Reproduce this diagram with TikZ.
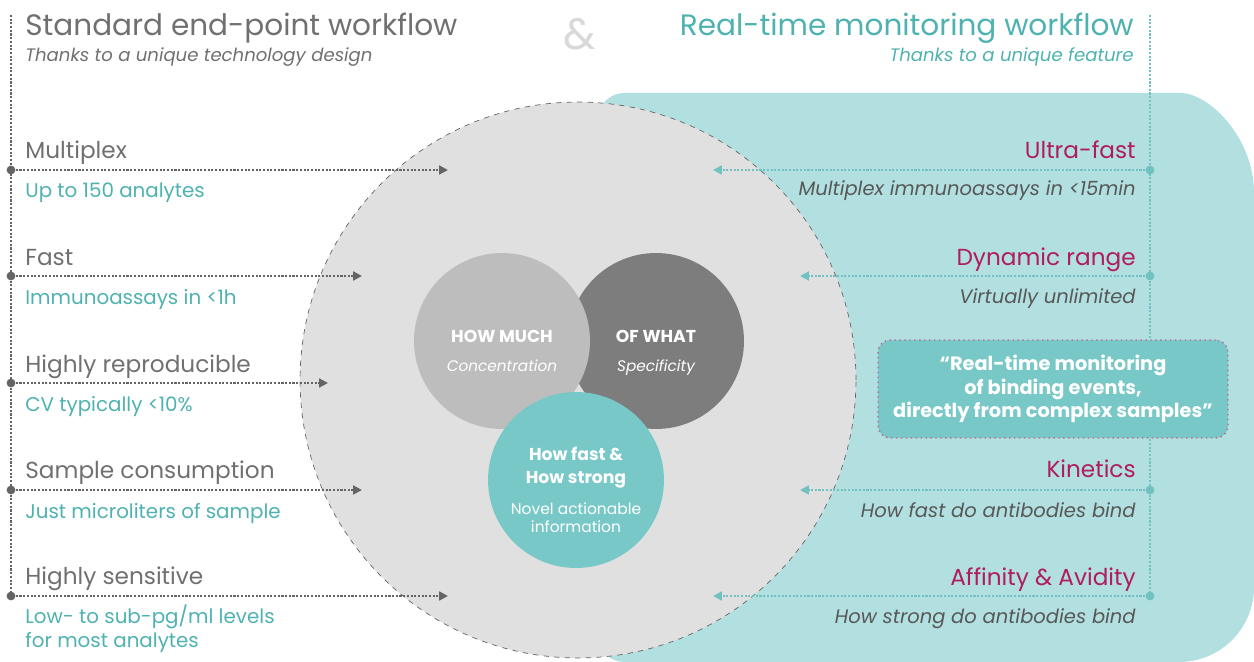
\documentclass[tikz,border=0pt]{standalone}
\usepackage{fontspec}
\setmainfont{Poppins}
\usetikzlibrary{arrows.meta}

\definecolor{tealtxt}{RGB}{78,178,176}
\definecolor{tealbg}{RGB}{178,223,223}
\definecolor{tealdk}{RGB}{120,200,200}
\definecolor{graytxt}{RGB}{112,112,112}
\definecolor{darktxt}{RGB}{88,88,88}
\definecolor{magtxt}{RGB}{176,28,96}
\definecolor{lightcirc}{RGB}{224,224,224}
\definecolor{midcirc}{RGB}{189,189,189}
\definecolor{darkcirc}{RGB}{125,125,125}
\definecolor{ampgray}{RGB}{217,217,217}
\definecolor{linegray}{RGB}{100,100,100}

\tikzset{
  txt/.style={inner sep=0pt},
  title/.style={txt, font=\fontsize{16.8}{19}\selectfont},
  subtitle/.style={txt, font=\fontsize{10.3}{12}\selectfont\itshape},
  lbl/.style={txt, font=\fontsize{13.2}{15}\selectfont},
  sublbl/.style={txt, font=\fontsize{11.3}{13.5}\selectfont, tealtxt},
  rsub/.style={txt, font=\fontsize{11.1}{13}\selectfont\itshape, darktxt},
  inbold/.style={txt, text=white, font=\fontsize{9.8}{12}\selectfont\bfseries, anchor=base},
  inital/.style={txt, text=white, font=\fontsize{8.7}{11}\selectfont\itshape, anchor=base},
  insmall/.style={txt, text=white, font=\fontsize{8.8}{10}\selectfont, anchor=base},
  dots/.style={line width=1.2pt, dash pattern=on 1.2pt off 0.9pt},
  dotL/.style={circle, fill=linegray, inner sep=0pt, minimum size=5pt},
  dotR/.style={circle, fill=tealtxt!80, inner sep=0pt, minimum size=5pt},
  arrL/.style={linegray, dots, -{Triangle[length=5pt,width=5pt]}},
  arrR/.style={tealtxt!80, dots, -{Triangle[length=5pt,width=5pt]}},
  ball/.style={circle, inner sep=0pt, minimum size=3.52cm},
}

\begin{document}
\begin{tikzpicture}[x=0.02cm, y=-0.02cm]
\useasboundingbox (0,0) rectangle (1254,662);
%\draw[step=50,gray,very thin] (0,0) grid (1254,662);

% teal panel and circles
\fill[tealbg, rounded corners=15] (598,93) -- (1154,93) [rounded corners=0] arc (-90:0:100) -- (1254,587) arc (0:90:75) [rounded corners=15] -- (612,662) -- (598,662) -- cycle;
\draw[linegray, dashed, fill=lightcirc] (578,380) circle (5.56cm);
\node[ball, fill=darkcirc] (what) at (656,341) {};
\node[ball, fill=midcirc] (much) at (502,341) {};
\node[ball, fill=tealdk] (fast) at (576,480) {};

\node[inbold] at (502,342) {HOW MUCH};
\node[inital] at (502,371) {Concentration};
\node[inbold] at (656,342) {OF WHAT};
\node[inital] at (656,371) {Specificity};
\node[inbold] at (576,460) {How fast \&};
\node[inbold] at (576,483) {How strong};
\node[insmall] at (576,514) {Novel actionable};
\node[insmall] at (576,532) {information};

% titles
\node[title, graytxt, anchor=base west] (ltitle) at (25,36) {Standard end-point workflow};
\node[subtitle, graytxt, anchor=base west] (lsub) at (25,62) {Thanks to a unique technology design};
\node[txt, ampgray, font=\fontsize{25}{28}\selectfont, anchor=base] (amp) at (580,50) {\&};
\node[title, tealtxt, anchor=base east] (rtitle) at (1134,36) {Real-time monitoring workflow};
\node[subtitle, tealtxt, anchor=base east] (rsub) at (1134,62) {Thanks to a unique feature};

% left column
\coordinate (ltop) at (11,15);
\node[dotL] (l1) at (11,170) {};
\node[dotL] (l2) at (11,276) {};
\node[dotL] (l3) at (11,383) {};
\node[dotL] (l4) at (11,490) {};
\node[dotL] (l5) at (11,596) {};
\draw[linegray, dots] (ltop) -- (l5);
\coordinate (le1) at (448,170);
\coordinate (le2) at (362,276);
\coordinate (le3) at (328,383);
\coordinate (le4) at (362,490);
\coordinate (le5) at (448,596);
\draw[arrL] (l1) -- (le1);
\draw[arrL] (l2) -- (le2);
\draw[arrL] (l3) -- (le3);
\draw[arrL] (l4) -- (le4);
\draw[arrL] (l5) -- (le5);
\node[lbl, graytxt, anchor=base west] at (25,159) {Multiplex};
\node[sublbl, anchor=base west] at (25,198) {Up to 150 analytes};
\node[lbl, graytxt, anchor=base west] at (25,265) {Fast};
\node[sublbl, anchor=base west] at (25,304) {Immunoassays in <1h};
\node[lbl, graytxt, anchor=base west] at (25,372) {Highly reproducible};
\node[sublbl, anchor=base west] at (25,411) {CV typically <10\%};
\node[lbl, graytxt, anchor=base west] at (25,478) {Sample consumption};
\node[sublbl, anchor=base west] at (25,518) {Just microliters of sample};
\node[lbl, graytxt, anchor=base west] at (25,584) {Highly sensitive};
\node[sublbl, anchor=base west] at (25,623) {Low- to sub-pg/ml levels};
\node[sublbl, anchor=base west] at (25,647) {for most analytes};

% right column
\coordinate (rtop) at (1150,15);
\node[dotR] (r1) at (1150,170) {};
\node[dotR] (r2) at (1150,276) {};
\node[dotR] (r3) at (1150,490) {};
\node[dotR] (r4) at (1150,596) {};
\draw[tealtxt!80, dots] (rtop) -- (r4);
\coordinate (re1) at (713,170);
\coordinate (re2) at (800,276);
\coordinate (re3) at (800,490);
\coordinate (re4) at (713,596);
\draw[arrR] (r1) -- (re1);
\draw[arrR] (r2) -- (re2);
\draw[arrR] (r3) -- (re3);
\draw[arrR] (r4) -- (re4);
\node[lbl, magtxt, anchor=base east] at (1136,159) {Ultra-fast};
\node[rsub, anchor=base east] at (1136,196) {Multiplex immunoassays in <15min};
\node[lbl, magtxt, anchor=base east] at (1136,265) {Dynamic range};
\node[rsub, anchor=base east] at (1136,303) {Virtually unlimited};
\node[lbl, magtxt, anchor=base east] at (1136,477) {Kinetics};
\node[rsub, anchor=base east] at (1136,517) {How fast do antibodies bind};
\node[lbl, magtxt, anchor=base east] at (1136,585) {Affinity \& Avidity};
\node[rsub, anchor=base east] at (1136,623) {How strong do antibodies bind};

% quote
\node[draw=magtxt!70, dotted, line width=0.8pt, fill=tealdk, rounded corners=7pt, minimum width=7cm, minimum height=1.96cm,
      text=white, font=\fontsize{11}{13.5}\selectfont\bfseries, align=center] (quote) at (1053,389)
      {“Real-time monitoring\\of binding events,\\directly from complex samples”};
\end{tikzpicture}
\end{document}
